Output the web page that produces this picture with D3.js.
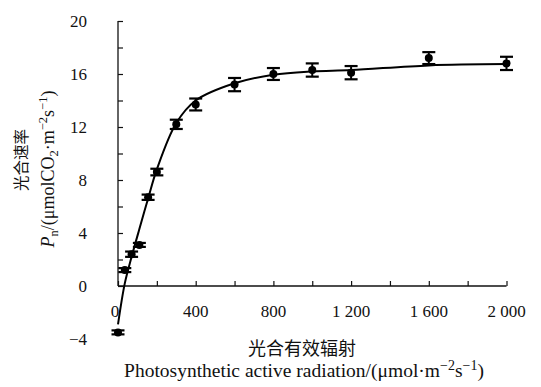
<!DOCTYPE html>
<html><head><meta charset="utf-8">
<script src="https://cdn.jsdelivr.net/npm/d3@7"></script>
<style>body{margin:0;background:#fff}svg{display:block}</style>
</head><body><svg id="c" width="541" height="387"></svg>
<script>
const par = [0, 35, 70, 110, 155, 200, 300, 400, 600, 800, 1000, 1200, 1600, 2000];
const pn = [-3.5, 1.2, 2.4, 3.1, 6.7, 8.6, 12.2, 13.7, 15.2, 16.0, 16.3, 16.1, 17.2, 16.8];
const err = [0.15, 0.15, 0.2, 0.15, 0.2, 0.25, 0.35, 0.45, 0.5, 0.45, 0.5, 0.5, 0.45, 0.5];
const fitPn = [-2.9, 0.2, 2.2, 4.3, 6.6, 8.8, 12.3, 14.0, 15.3, 15.95, 16.2, 16.3, 16.65, 16.75];
const xTicks = [0, 400, 800, 1200, 1600, 2000];
const xTickLabels = ["0", "400", "800", "1 200", "1 600", "2 000"];
const yTicks = [-4, 0, 4, 8, 12, 16, 20];
const yTickLabels = ["\u22124", "0", "4", "8", "12", "16", "20"];

const svg = d3.select("#c");
const x = d3.scaleLinear().domain([0, 2000]).range([118, 506.5]);
const y = d3.scaleLinear().domain([-4, 20]).range([339, 21]);
const serif = "'Liberation Serif','Times New Roman',serif";
const cjk = "'Noto Sans CJK SC',sans-serif";

// axes
const xAxis = d3.axisBottom(x).tickValues(d3.range(0, 2001, 200)).tickSize(-5).tickFormat("");
const gx = svg.append("g").attr("transform", `translate(0,${y(0)})`).call(xAxis);
const yAxis = d3.axisLeft(y).tickValues(d3.range(0, 21, 2)).tickSize(-5).tickFormat("");
const gy = svg.append("g").attr("transform", `translate(${x(0)},0)`).call(yAxis);
[gx, gy].forEach(g => {
  g.select(".domain").attr("stroke", "#111").attr("stroke-width", 1.3);
  g.selectAll(".tick line").attr("stroke", "#111").attr("stroke-width", 1.2);
});
gx.select(".domain").attr("d", `M${x(0)},0H${x(2000)}`);
gy.select(".domain").attr("d", `M0,${y(0)}V${y(20)}`);

// tick labels
svg.append("g").selectAll("text").data(xTicks).join("text")
  .attr("x", (d) => x(d) - (d === 0 ? 3 : 0)).attr("y", 317)
  .attr("text-anchor", "middle").attr("font-family", serif).attr("font-size", 17)
  .attr("fill", "#111").text((d, i) => xTickLabels[i]);
svg.append("g").selectAll("text").data(yTicks).join("text")
  .attr("x", 87).attr("y", d => y(d)).attr("dy", "0.35em")
  .attr("text-anchor", "end").attr("font-family", serif).attr("font-size", 17)
  .attr("fill", "#111").text((d, i) => yTickLabels[i]);

// fitted line
const line = d3.line().x((d, i) => x(par[i])).y(d => y(d)).curve(d3.curveCatmullRom.alpha(0.5));
svg.append("path").attr("d", line(fitPn)).attr("fill", "none")
  .attr("stroke", "#000").attr("stroke-width", 2);

// error bars and points
const pts = svg.append("g").selectAll("g").data(pn).join("g");
pts.append("line").attr("x1", (d, i) => x(par[i])).attr("x2", (d, i) => x(par[i]))
  .attr("y1", (d, i) => y(d - err[i])).attr("y2", (d, i) => y(d + err[i]))
  .attr("stroke", "#000").attr("stroke-width", 2);
["-", "+"].forEach(s => {
  pts.append("line")
    .attr("x1", (d, i) => x(par[i]) - 6.5).attr("x2", (d, i) => x(par[i]) + 6.5)
    .attr("y1", (d, i) => y(s === "-" ? d - err[i] : d + err[i]))
    .attr("y2", (d, i) => y(s === "-" ? d - err[i] : d + err[i]))
    .attr("stroke", "#000").attr("stroke-width", 2.2);
});
pts.append("circle").attr("cx", (d, i) => x(par[i])).attr("cy", d => y(d)).attr("r", 4).attr("fill", "#000");

// x titles
svg.append("text").attr("x", 302).attr("y", 355).attr("text-anchor", "middle")
  .attr("font-family", cjk).attr("font-size", 18).attr("fill", "#111").text("光合有效辐射");
const xt = svg.append("text").attr("x", 304).attr("y", 377).attr("text-anchor", "middle")
  .attr("font-family", serif).attr("font-size", 19.5).attr("fill", "#111");
xt.append("tspan").text("Photosynthetic active radiation/(\u03bcmol\u00b7m");
xt.append("tspan").attr("dy", -7).attr("font-size", 14).text("\u22122");
xt.append("tspan").attr("dy", 7).text("s");
xt.append("tspan").attr("dy", -7).attr("font-size", 14).text("\u22121");
xt.append("tspan").attr("dy", 7).text(")");

// y titles
svg.append("text").attr("transform", "translate(27,160) rotate(-90)").attr("text-anchor", "middle")
  .attr("font-family", cjk).attr("font-size", 15.5).attr("fill", "#111").text("光合速率");
const yt = svg.append("text").attr("transform", "translate(54,169) rotate(-90)").attr("text-anchor", "middle")
  .attr("font-family", serif).attr("font-size", 18).attr("fill", "#111");
yt.append("tspan").attr("font-style", "italic").text("P");
yt.append("tspan").attr("dy", 4).attr("font-size", 12.5).text("n");
yt.append("tspan").attr("dy", -4).text("/(\u03bcmolCO");
yt.append("tspan").attr("dy", 4).attr("font-size", 12.5).text("2");
yt.append("tspan").attr("dy", -4).text("\u00b7m");
yt.append("tspan").attr("dy", -7).attr("font-size", 12.5).text("\u22122");
yt.append("tspan").attr("dy", 7).text("s");
yt.append("tspan").attr("dy", -7).attr("font-size", 12.5).text("\u22121");
yt.append("tspan").attr("dy", 7).text(")");
</script></body></html>
